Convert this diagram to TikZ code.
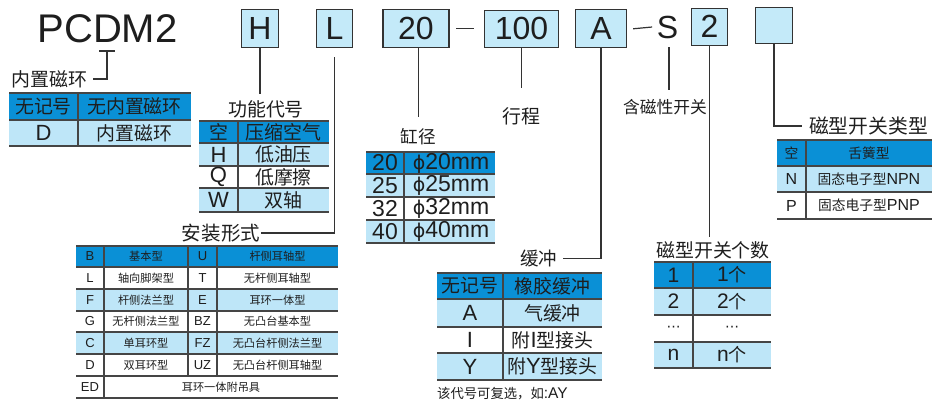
\documentclass[tikz,border=0pt]{standalone}
\usepackage{fontspec}
\setmainfont{Liberation Sans}
\newfontfamily\cjk[Scale=0.86]{Noto Sans CJK SC}
\newfontfamily\djv{DejaVu Sans}
\newcommand\zh[1]{{\cjk #1}}
\newcommand\phii{{\djv\fontsize{19}{19}\selectfont ϕ}}
\definecolor{dk}{HTML}{0A90D6}
\definecolor{lt}{HTML}{BEE6F8}
\definecolor{boxc}{HTML}{C4EAF9}
\definecolor{lc}{HTML}{333333}
\definecolor{tl}{HTML}{454545}
\definecolor{tc}{HTML}{1E1E1E}
\tikzset{
  topbox/.style={draw=lc, line width=1.3pt, fill=boxc, inner sep=0pt, text=tc,
    font=\fontsize{32}{32}\selectfont},
  lab/.style={inner sep=1pt, text=tc, font=\fontsize{#1}{#1}\selectfont},
  conn/.style={draw=lc, line width=1.3pt},
  tline/.style={draw=tl, line width=1.6pt},
  cell/.style={inner sep=0pt, text=tc, font=\fontsize{#1}{#1}\selectfont},
}
\begin{document}
\begin{tikzpicture}[x=1pt,y=-1pt]
\useasboundingbox (0,0) rectangle (932,401);
\fill[white] (0,0) rectangle (932,401);

% ---------- top code row ----------
\node[lab=40] (pc) at (107.5,29) {PCDM2};
\node[topbox,minimum width=37pt,minimum height=38pt] (bH) at (260,28.8) {H};
\node[topbox,minimum width=36.5pt,minimum height=38pt] (bL) at (334.5,28.8) {L};
\node[topbox,minimum width=66pt,minimum height=38pt] (b20) at (416,28.8) {20};
\node[topbox,minimum width=74.5pt,minimum height=37pt] (b100) at (521.5,28.8) {100};
\node[topbox,minimum width=51pt,minimum height=38pt] (bA) at (601,28.8) {A};
\node[lab=32] (S) at (667.5,27) {S};
\node[topbox,minimum width=36.5pt,minimum height=36.5pt] (b2) at (709.5,27) {\raisebox{2pt}{2}};
\node[topbox,minimum width=36.7pt,minimum height=36pt] (bE) at (774,25.8) {};

% dashes
\draw[conn,line width=1.2pt] ([xshift=6.5pt]b20.east) -- ([xshift=-9.5pt]b100.west);
\draw[conn,line width=1.2pt] ([xshift=6pt]bA.east) -- ([xshift=-3.5pt]S.west);

% ---------- labels ----------
\node[lab=22,inner xsep=5pt] (nz) at (49.5,79) {\zh{内置磁环}};
\node[lab=22] (fn) at (266,109) {\zh{功能代号}};
\node[lab=22.7,inner xsep=1pt] (az) at (221,233) {\zh{安装形式}};
\node[lab=20.5] (gj) at (418,136.5) {\zh{缸径}};
\node[lab=22] (xc) at (521.5,116) {\zh{行程}};
\node[lab=19.5] (hs) at (665,107) {\zh{含磁性开关}};
\node[lab=21.5,inner xsep=6pt] (hc) at (538.5,258.3) {\zh{缓冲}};
\node[lab=22] (gs) at (713,250) {\zh{磁型开关个数}};
\node[lab=23,inner xsep=7pt] (lx) at (868.5,126) {\zh{磁型开关类型}};
\node[lab=15.5,anchor=west,inner sep=0pt] (note) at (437,394) {\zh{该代号可复选，如}:AY};

% ---------- connectors ----------
\coordinate (pcb) at (107,51);
\draw[conn] ([xshift=-8pt]pcb) -- ([xshift=8pt]pcb);
\draw[conn] (pcb) |- (nz.east);
\coordinate (eH) at (260,94);
\draw[conn] (bH.south) -- (eH);
\draw[conn] ([yshift=-8.7pt]bL.south) |- (az.east);
\coordinate (e20) at (418.3,117);
\draw[conn] ([xshift=2.3pt]b20.south) -- (e20);
\coordinate (e100) at (521.5,88);
\draw[conn] (b100.south) -- (e100);
\draw[conn] (bA.south) |- (hc.east);
\coordinate (eS) at (669,90);
\draw[conn] ([xshift=1.5pt,yshift=-7.5pt]S.south) -- (eS);
\coordinate (e2) at (709.5,237);
\draw[conn] (b2.south) -- (e2);
\draw[conn] (bE.south) |- (lx.west);

% ---------- table 1: 内置磁环 ----------
\fill[dk] (9,93) rectangle (191,120);
\fill[lt] (9,120) rectangle (191,146);
\foreach \yy in {93,120,146} \draw[tline] (9,\yy) -- (191,\yy);
\draw[tline] (78,93) -- (78,146);
\node[cell=22] (t1a) at (43.5,106.5) {\zh{无记号}};
\node[cell=22] (t1b) at (134.5,106.5) {\zh{无内置磁环}};
\node[cell=22] (t1c) at (43.5,133) {D};
\node[cell=22] (t1d) at (134.5,133) {\zh{内置磁环}};

% ---------- table 2: 功能代号 ----------
\fill[dk] (199,121) rectangle (329,143);
\fill[lt] (199,143) rectangle (329,166);
\fill[lt] (199,188) rectangle (329,212);
\foreach \yy in {121,143,166,188,212} \draw[tline] (199,\yy) -- (329,\yy);
\draw[tline] (238,121) -- (238,212);
\node[cell=22] (t2a) at (218.5,132) {\zh{空}};
\node[cell=22] (t2b) at (283.5,132) {\zh{压缩空气}};
\node[cell=22] (t2c) at (218.5,154.5) {H};
\node[cell=22] (t2d) at (283.5,154.5) {\zh{低油压}};
\node[cell=22] (t2e) at (218.5,177) {Q};
\node[cell=22] (t2f) at (283.5,177) {\zh{低摩擦}};
\node[cell=22] (t2g) at (218.5,200) {W};
\node[cell=22] (t2h) at (283.5,200) {\zh{双轴}};

% ---------- table 3: 安装形式 ----------
\fill[dk] (76,246) rectangle (338,267);
\fill[lt] (76,289) rectangle (338,311);
\fill[lt] (76,332) rectangle (338,354);
\foreach \yy in {246,267,289,311,332,354,376,398} \draw[tline] (76,\yy) -- (338,\yy);
\draw[tline] (104,246) -- (104,398);
\draw[tline] (188,246) -- (188,376);
\draw[tline] (217,246) -- (217,376);
\node[cell=13] (t3a1) at (90,256.5) {B};
\node[cell=13] (t3a2) at (146,256.5) {\zh{基本型}};
\node[cell=13] (t3a3) at (202.5,256.5) {U};
\node[cell=13] (t3a4) at (277.5,256.5) {\zh{杆侧耳轴型}};
\node[cell=13] (t3b1) at (90,278) {L};
\node[cell=13] (t3b2) at (146,278) {\zh{轴向脚架型}};
\node[cell=13] (t3b3) at (202.5,278) {T};
\node[cell=13] (t3b4) at (277.5,278) {\zh{无杆侧耳轴型}};
\node[cell=13] (t3c1) at (90,300) {F};
\node[cell=13] (t3c2) at (146,300) {\zh{杆侧法兰型}};
\node[cell=13] (t3c3) at (202.5,300) {E};
\node[cell=13] (t3c4) at (277.5,300) {\zh{耳环一体型}};
\node[cell=13] (t3d1) at (90,321.5) {G};
\node[cell=13] (t3d2) at (146,321.5) {\zh{无杆侧法兰型}};
\node[cell=13] (t3d3) at (202.5,321.5) {BZ};
\node[cell=13] (t3d4) at (277.5,321.5) {\zh{无凸台基本型}};
\node[cell=13] (t3e1) at (90,343) {C};
\node[cell=13] (t3e2) at (146,343) {\zh{单耳环型}};
\node[cell=13] (t3e3) at (202.5,343) {FZ};
\node[cell=13] (t3e4) at (277.5,343) {\zh{无凸台杆侧法兰型}};
\node[cell=13] (t3f1) at (90,365) {D};
\node[cell=13] (t3f2) at (146,365) {\zh{双耳环型}};
\node[cell=13] (t3f3) at (202.5,365) {UZ};
\node[cell=13] (t3f4) at (277.5,365) {\zh{无凸台杆侧耳轴型}};
\node[cell=13] (t3g1) at (90,387) {ED};
\node[cell=13] (t3g2) at (221,387) {\zh{耳环一体附吊具}};

% ---------- table 4: 缸径 ----------
\fill[dk] (366,152) rectangle (495,174);
\fill[lt] (366,174) rectangle (495,197);
\fill[lt] (366,220) rectangle (495,243);
\foreach \yy in {152,174,197,220,243} \draw[tline] (366,\yy) -- (495,\yy);
\draw[tline] (404,152) -- (404,243);
\node[cell=23] (t4a) at (385,163) {20};
\node[cell=23] (t4b) at (451,163) {\phii 20mm};
\node[cell=23] (t4c) at (385,185.5) {25};
\node[cell=23] (t4d) at (451,185.5) {\phii 25mm};
\node[cell=23] (t4e) at (385,208.5) {32};
\node[cell=23] (t4f) at (451,208.5) {\phii 32mm};
\node[cell=23] (t4g) at (385,231.5) {40};
\node[cell=23] (t4h) at (451,231.5) {\phii 40mm};

% ---------- table 5: 缓冲 ----------
\fill[dk] (437,273) rectangle (602,299);
\fill[lt] (437,299) rectangle (602,327);
\fill[lt] (437,353) rectangle (602,380);
\foreach \yy in {273,299,327,353,380} \draw[tline] (437,\yy) -- (602,\yy);
\draw[tline] (503,273) -- (503,380);
\node[cell=22] (t5a) at (470,286) {\zh{无记号}};
\node[cell=22] (t5b) at (552.5,286) {\zh{橡胶缓冲}};
\node[cell=22] (t5c) at (470,313) {A};
\node[cell=22] (t5d) at (552.5,313) {\zh{气缓冲}};
\node[cell=22] (t5e) at (470,340) {I};
\node[cell=22] (t5f) at (552.5,340) {\zh{附}I\zh{型接头}};
\node[cell=22] (t5g) at (470,366.5) {Y};
\node[cell=22] (t5h) at (552.5,366.5) {\zh{附}Y\zh{型接头}};

% ---------- table 6: 磁型开关类型 ----------
\fill[dk] (777,140) rectangle (932,166);
\fill[lt] (777,166) rectangle (932,192);
\foreach \yy in {140,166,192,219} \draw[tline] (777,\yy) -- (932,\yy);
\draw[tline] (806,140) -- (806,219);
\node[cell=16] (t6a) at (791.5,153) {\zh{空}};
\node[cell=16] (t6b) at (869,153) {\zh{舌簧型}};
\node[cell=16] (t6c) at (791.5,179) {N};
\node[cell=16] (t6d) at (869,179) {\zh{固态电子型}NPN};
\node[cell=16] (t6e) at (791.5,205.5) {P};
\node[cell=16] (t6f) at (869,205.5) {\zh{固态电子型}PNP};

% ---------- table 7: 磁型开关个数 ----------
\fill[dk] (654,262) rectangle (771,288);
\fill[lt] (654,288) rectangle (771,315);
\fill[lt] (654,342) rectangle (771,368);
\foreach \yy in {262,288,315,342,368} \draw[tline] (654,\yy) -- (771,\yy);
\draw[tline] (693,262) -- (693,368);
\node[cell=21] (t7a) at (673.5,275) {1};
\node[cell=21] (t7b) at (732,275) {1\zh{个}};
\node[cell=21] (t7c) at (673.5,301.5) {2};
\node[cell=21] (t7d) at (732,301.5) {2\zh{个}};
\node[cell=21] (t7e) at (673.5,328.5) {{\djv\fontsize{14}{14}\selectfont ⋯}};
\node[cell=21] (t7f) at (732,328.5) {{\djv\fontsize{14}{14}\selectfont ⋯}};
\node[cell=21] (t7g) at (673.5,355) {n};
\node[cell=21] (t7h) at (732,355) {n\zh{个}};
\end{tikzpicture}
\end{document}
